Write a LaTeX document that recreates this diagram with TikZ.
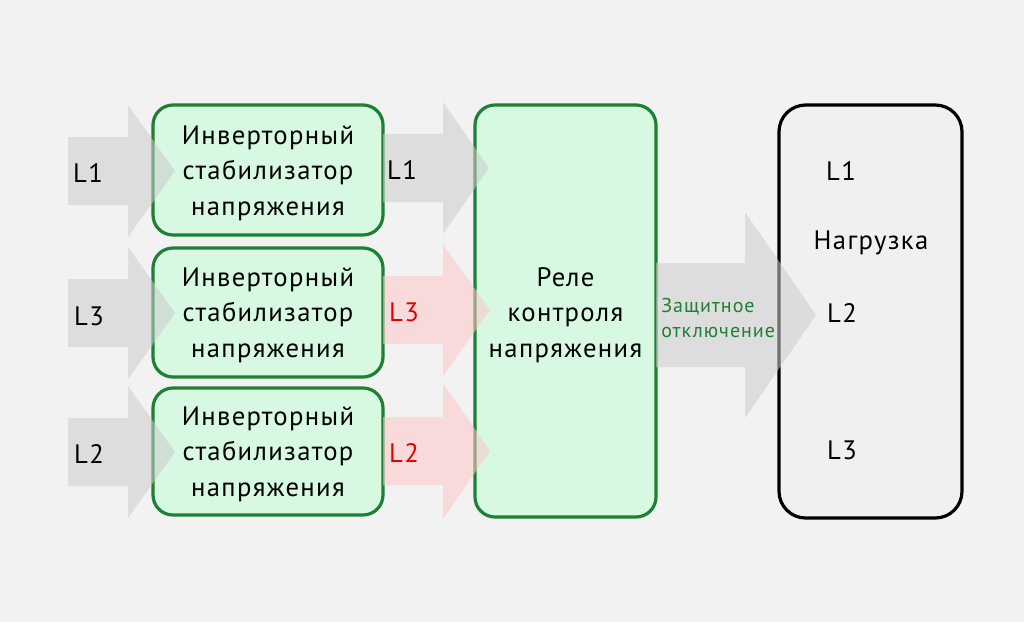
\documentclass[tikz,border=0pt]{standalone}
\usepackage{fontspec}
\setmainfont{PT Sans}[LetterSpace=5]
\definecolor{bgc}{RGB}{242,242,242}
\definecolor{gbord}{RGB}{30,128,52}
\definecolor{gfill}{RGB}{215,248,225}
\definecolor{loadfill}{RGB}{240,240,240}
\definecolor{arrgray}{RGB}{204,204,204}
\definecolor{arrred}{RGB}{255,200,200}
\definecolor{redtxt}{RGB}{228,0,0}
\definecolor{greentxt}{RGB}{30,128,52}
\newcommand\blkarrow[7]{\fill[#7] (#1,#4-#5) -- (#2,#4-#5) -- (#2,#4-#6) -- (#3,#4) -- (#2,#4+#6) -- (#2,#4+#5) -- (#1,#4+#5) -- cycle;}
\begin{document}
\begin{tikzpicture}[x=0.75pt,y=-0.75pt,
  mainfont/.style={font=\fontsize{20}{26.5}\selectfont},
  greenbox/.style={draw=gbord, fill=gfill, line width=2.4pt, rounded corners=15pt, inner sep=0pt},
  boxtxt/.style={mainfont, align=center, inner sep=0pt},
  loadbox/.style={draw=black, fill=loadfill, line width=2.4pt, rounded corners=20pt, inner sep=0pt},
  lbl/.style={mainfont, inner sep=0pt},
  redlbl/.style={lbl, text=redtxt},
  grayarrow/.style={fill=arrgray, fill opacity=0.55},
  redarrow/.style={fill=arrred, fill opacity=0.55},
  smalltxt/.style={font=\fontsize{15}{19}\selectfont, text=greentxt, align=left, inner sep=0pt}
]
\fill[bgc] (0,0) rectangle (1024,622);
\useasboundingbox (0,0) rectangle (1024,622);

% boxes
\node[greenbox, minimum width=172.5pt, minimum height=97.5pt] (inv1) at (268,170) {};
\node[greenbox, minimum width=172.5pt, minimum height=96.75pt] (inv2) at (268,312.5) {};
\node[greenbox, minimum width=172.5pt, minimum height=95.25pt] (inv3) at (268,451.5) {};
\node[greenbox, minimum width=135.75pt, minimum height=309pt] (relay) at (565.5,311) {};
\node[loadbox, minimum width=137.25pt, minimum height=309.75pt] (load) at (870.5,311.5) {};

\node[boxtxt] (inv1txt) at (268,173) {Инверторный\\стабилизатор\\напряжения};
\node[boxtxt] (inv2txt) at (268,315) {Инверторный\\стабилизатор\\напряжения};
\node[boxtxt] (inv3txt) at (268,454) {Инверторный\\стабилизатор\\напряжения};
\node[boxtxt] (relaytxt) at (565.5,315) {Реле\\контроля\\напряжения};

% arrows
\blkarrow{68}{128}{175}{171}{34}{66}{grayarrow}
\blkarrow{68}{128}{175}{313}{34}{66}{grayarrow}
\blkarrow{68}{128}{175}{452}{34}{66}{grayarrow}
\blkarrow{383}{443}{489}{168}{34}{66}{grayarrow}
\blkarrow{383}{443}{490}{310}{34}{66}{redarrow}
\blkarrow{383}{443}{490}{451}{34}{68}{redarrow}
\blkarrow{656}{745}{816}{315}{52}{103}{grayarrow}

% labels
\node[lbl] (in1) at (88,173) {L1};
\node[lbl] (in3) at (89,316) {L3};
\node[lbl] (in2) at (89,454) {L2};
\node[lbl] (m1) at (402,170) {L1};
\node[redlbl] (m3) at (404,312) {L3};
\node[redlbl] (m2) at (404,453) {L2};
\node[smalltxt, anchor=west] (prot) at (661,318) {Защитное\\отключение};
\node[lbl] (ld1) at (841,171) {L1};
\node[lbl] (ldn) at (871,243) {Нагрузка};
\node[lbl] (ld2) at (842,313) {L2};
\node[lbl] (ld3) at (842,450) {L3};
\end{tikzpicture}
\end{document}
